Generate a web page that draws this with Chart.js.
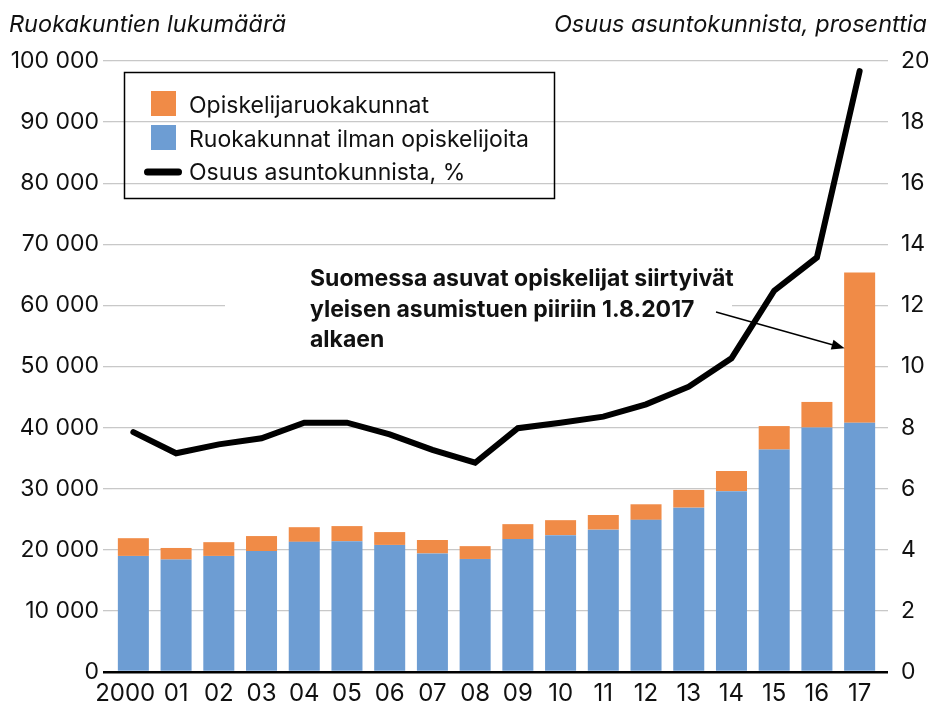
<!DOCTYPE html>
<html>
<head>
<meta charset="utf-8">
<script src="https://cdn.jsdelivr.net/npm/chart.js@4"></script>
<style>
  html, body { margin: 0; padding: 0; background: #fff; }
  #wrap { width: 932px; height: 706px; }
</style>
</head>
<body>
<div id="wrap"><canvas id="chart" width="932" height="706"></canvas></div>
<script>
// Data
const years = ['2000', '01', '02', '03', '04', '05', '06', '07', '08', '09', '10', '11', '12', '13', '14', '15', '16', '17'];
// households without students (blue part of the bar)
const ilmanOpiskelijoita = [19000, 18400, 19000, 19800, 21300, 21400, 20800, 19400, 18500, 21750, 22400, 23300, 24900, 26900, 29600, 36400, 40000, 40800];
// student households (orange part, stacked on top)
const opiskelijat = [2900, 1900, 2250, 2450, 2400, 2480, 2100, 2200, 2100, 2450, 2450, 2400, 2550, 2900, 3300, 3850, 4200, 24600];
// share of all households, %
const osuus = [7.85, 7.16, 7.45, 7.65, 8.16, 8.16, 7.78, 7.27, 6.85, 7.98, 8.16, 8.36, 8.76, 9.34, 10.27, 12.48, 13.57, 19.67];

const leftTitle = 'Ruokakuntien lukumäärä';
const rightTitle = 'Osuus asuntokunnista, prosenttia';
const noteLines = ['Suomessa asuvat opiskelijat siirtyivät', 'yleisen asumistuen piiriin 1.8.2017', 'alkaen'];

const ORANGE = '#f08b47';
const BLUE = '#6d9dd3';
const GRID = '#c8c8c8';
const FONT = 'Inter, "Noto Sans", sans-serif';

function fmt(v) {
  return String(v).replace(/\B(?=(\d{3})+(?!\d))/g, ' ');
}

// titles, legend box and the note with its arrow
const extras = {
  id: 'extras',
  beforeDatasetsDraw(chart) {
    const { ctx } = chart;
    // white box behind the note hides a bit of gridline
    ctx.save();
    ctx.fillStyle = '#fff';
    ctx.fillRect(225, 258, 507, 96);
    ctx.restore();
  },
  afterDraw(chart) {
    const { ctx, scales } = chart;
    ctx.save();
    ctx.fillStyle = '#111';
    ctx.font = 'italic 23.5px ' + FONT;
    ctx.textBaseline = 'alphabetic';
    ctx.textAlign = 'left';
    ctx.fillText(leftTitle, 9, 32);
    ctx.textAlign = 'right';
    ctx.fillText(rightTitle, 927, 32);

    // legend
    ctx.lineWidth = 1.5;
    ctx.strokeStyle = '#000';
    ctx.strokeRect(124.5, 72.5, 430, 126);
    const ds = chart.data.datasets;
    const items = [ds[2], ds[1], ds[0]];
    ctx.font = '23px ' + FONT;
    ctx.textAlign = 'left';
    items.forEach((d, i) => {
      const base = [112.5, 146.5, 180][i];
      if (d.type === 'line') {
        ctx.strokeStyle = '#000';
        ctx.lineWidth = 7;
        ctx.lineCap = 'round';
        ctx.beginPath();
        ctx.moveTo(147.5, 172);
        ctx.lineTo(178.5, 172);
        ctx.stroke();
      } else {
        ctx.fillStyle = d.backgroundColor;
        ctx.fillRect(151, [91, 125][i], 25, 25);
      }
      ctx.fillStyle = '#111';
      ctx.fillText(d.label, 189, base);
    });

    // note
    ctx.font = 'bold 23px ' + FONT;
    noteLines.forEach((t, i) => ctx.fillText(t, 310, 286 + i * 30.5));

    // arrow to the 2017 bar
    const x = scales.x;
    const y = scales.y;
    const tipX = x.getPixelForValue(17) - 15;
    const tipY = y.getPixelForValue(53000);
    const sx = 716, sy = 312;
    const ang = Math.atan2(tipY - sy, tipX - sx);
    ctx.strokeStyle = '#000';
    ctx.lineWidth = 1.4;
    ctx.lineCap = 'butt';
    ctx.beginPath();
    ctx.moveTo(sx, sy);
    ctx.lineTo(tipX - 10 * Math.cos(ang), tipY - 10 * Math.sin(ang));
    ctx.stroke();
    ctx.fillStyle = '#000';
    ctx.beginPath();
    ctx.moveTo(tipX, tipY);
    ctx.lineTo(tipX - 13 * Math.cos(ang) + 5 * Math.sin(ang), tipY - 13 * Math.sin(ang) - 5 * Math.cos(ang));
    ctx.lineTo(tipX - 13 * Math.cos(ang) - 5 * Math.sin(ang), tipY - 13 * Math.sin(ang) + 5 * Math.cos(ang));
    ctx.closePath();
    ctx.fill();
    ctx.restore();
  }
};

const ctx = document.getElementById('chart').getContext('2d');
const chart = new Chart(ctx, {
  type: 'bar',
  data: {
    labels: years,
    datasets: [{
      type: 'line',
      label: 'Osuus asuntokunnista, %',
      data: osuus,
      yAxisID: 'y1',
      borderColor: '#000',
      borderWidth: 6,
      borderCapStyle: 'round',
      pointRadius: 0,
      tension: 0,
      order: 0
    }, {
      label: 'Ruokakunnat ilman opiskelijoita',
      data: ilmanOpiskelijoita,
      backgroundColor: BLUE,
      stack: 's',
      order: 1
    }, {
      label: 'Opiskelijaruokakunnat',
      data: opiskelijat,
      backgroundColor: ORANGE,
      stack: 's',
      order: 1
    }]
  },
  options: {
    responsive: false,
    animation: false,
    layout: { padding: { top: 61, left: 0, right: 0, bottom: 0 } },
    datasets: { bar: { categoryPercentage: 1, barPercentage: 0.726 } },
    plugins: { legend: { display: false }, tooltip: { enabled: false } },
    scales: {
      x: {
        stacked: true,
        grid: { display: false, drawTicks: false },
        border: { display: false },
        ticks: {
          color: '#111', font: { family: FONT, size: 24 }, padding: 7, maxRotation: 0, autoSkip: false,
          // first label sits a bit left of its bar so it does not touch "01"
          callback: (v, i) => i === 0 ? years[i] + '\u2002\u2009' : years[i]
        },
        afterFit(s) { s.height = 34; }
      },
      y: {
        stacked: true,
        position: 'left',
        min: 0,
        max: 100000,
        border: { display: false },
        grid: {
          color: c => c.tick && c.tick.value === 0 ? '#000' : GRID,
          lineWidth: c => c.tick && c.tick.value === 0 ? 2.5 : 1.3,
          tickLength: 9
        },
        ticks: { stepSize: 10000, color: '#111', font: { family: FONT, size: 23 }, padding: 4, callback: v => fmt(v) },
        afterFit(s) { s.width = 112; }
      },
      y1: {
        position: 'right',
        min: 0,
        max: 20,
        border: { display: false },
        grid: {
          drawOnChartArea: false,
          color: c => c.tick && c.tick.value === 0 ? '#000' : GRID,
          lineWidth: c => c.tick && c.tick.value === 0 ? 2.5 : 1.3,
          tickLength: 7
        },
        ticks: { stepSize: 2, color: '#111', font: { family: FONT, size: 23 }, padding: 13 },
        afterFit(s) { s.width = 51; }
      }
    }
  },
  plugins: [extras]
});
</script>
</body>
</html>
